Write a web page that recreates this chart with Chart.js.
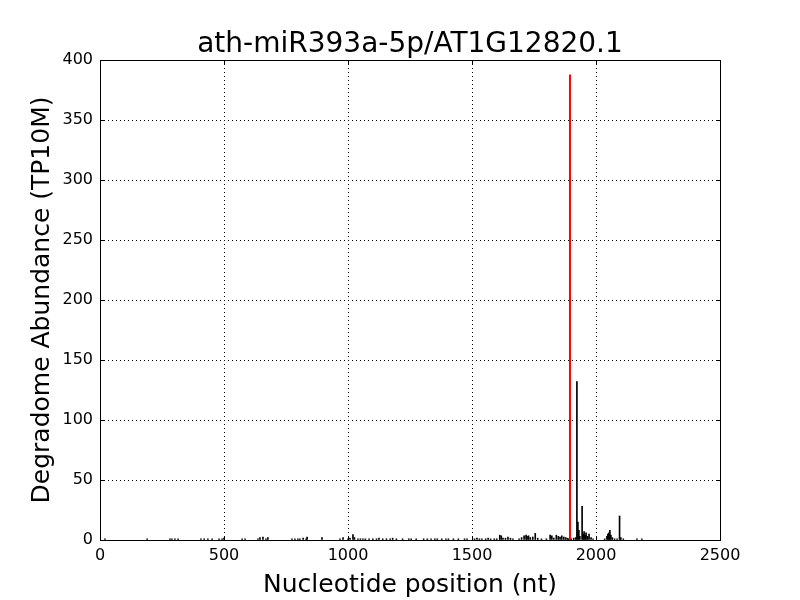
<!DOCTYPE html>
<html>
<head>
<meta charset="utf-8">
<script src="https://cdn.jsdelivr.net/npm/chart.js@4"></script>
<style>
  html, body { margin: 0; padding: 0; background: #fff; }
  #wrap { width: 800px; height: 600px; }
</style>
</head>
<body>
<div id="wrap"><canvas id="degChart" width="800" height="600"></canvas></div>
<script>
// Chart data
const chartTitle = "ath-miR393a-5p/AT1G12820.1";
const xTicks = [0, 500, 1000, 1500, 2000, 2500];
const yTicks = [0, 50, 100, 150, 200, 250, 300, 350, 400];

// degradome read positions (nt) and abundance (TP10M)
const positions = [
  20, 190, 282, 290, 302, 315, 407, 420, 435, 452, 480, 492, 500,
  573, 585, 637, 645, 657, 669, 677, 774, 786, 798, 806, 819, 831, 835, 895,
  968, 980, 1000, 1008, 1020, 1026, 1040, 1050, 1060, 1070, 1085, 1100, 1115,
  1125, 1140, 1155, 1170, 1180, 1195, 1220, 1245, 1255, 1275, 1305, 1320, 1335,
  1350, 1360, 1378, 1395, 1405, 1425, 1445, 1470, 1480, 1510, 1520, 1530, 1540,
  1555, 1565, 1575, 1590, 1600, 1612, 1618, 1625, 1635, 1645, 1655, 1665, 1690,
  1700, 1710, 1718, 1722, 1728, 1735, 1745, 1755, 1765, 1780, 1800, 1815, 1822,
  1830, 1840, 1848, 1855, 1862, 1870, 1878, 1885, 1890,
  1900, 1910, 1918, 1923, 1927, 1931, 1935, 1944, 1948, 1952, 1956, 1960, 1966,
  1972, 1980, 1988, 2035, 2044, 2048, 2052, 2056, 2060, 2066, 2075, 2085, 2095,
  2100, 2110, 2165, 2185
];
const abundance = [
  1, 1, 1, 1, 1, 1, 1, 1, 1, 1, 1, 1, 1.5,
  1, 1, 1, 2, 2.5, 1, 2, 1, 1, 1, 1, 1.5, 1, 2.5, 2,
  1, 2, 1, 1.5, 4.5, 2, 1, 1, 1, 1, 1, 1, 1,
  1.5, 1, 1, 1, 1.5, 1, 1, 1, 1, 1, 1, 1, 1,
  1, 1, 1, 1, 1, 1, 1, 1, 1, 1, 1.5, 1, 1,
  1, 1.5, 1, 1, 1, 4, 3.5, 1.5, 1.5, 2.5, 1.5, 1, 1,
  2, 3.5, 4, 3, 3.5, 2, 2.5, 5.5, 1.5, 1, 1, 4, 3.5,
  1.5, 4, 3, 2.5, 3.5, 2.5, 2, 1.5, 1,
  1, 1.5, 2, 132, 15, 8, 3, 28, 5, 7, 4, 6, 3,
  5, 2, 1, 1, 3, 5, 6, 8, 4, 2, 1, 1, 20,
  2, 1, 1, 1
];

// predicted cleavage site
const cleavagePos = 1895;
const cleavageAbundance = 388;

const fontFamily = "'DejaVu Sans', sans-serif";

// inward tick marks on all four sides, black frame and the title centred over the plot
const framePlugin = {
  id: "frame",
  afterDatasetsDraw(chart) {
    const { ctx, chartArea: a, scales } = chart;
    ctx.save();
    ctx.strokeStyle = "#000";
    ctx.lineWidth = 1;
    ctx.beginPath();
    xTicks.forEach(v => {
      const px = Math.round(scales.x.getPixelForValue(v)) + 0.5;
      ctx.moveTo(px, a.bottom); ctx.lineTo(px, a.bottom - 4);
      ctx.moveTo(px, a.top); ctx.lineTo(px, a.top + 4);
    });
    yTicks.forEach(v => {
      const py = Math.round(scales.y.getPixelForValue(v)) + 0.5;
      ctx.moveTo(a.left, py); ctx.lineTo(a.left + 4, py);
      ctx.moveTo(a.right, py); ctx.lineTo(a.right - 4, py);
    });
    ctx.stroke();
    ctx.strokeRect(Math.round(a.left) + 0.5, Math.round(a.top) + 0.5,
      Math.round(a.right - a.left), Math.round(a.bottom - a.top));

    ctx.fillStyle = "#000";
    ctx.font = "28px " + fontFamily;
    ctx.textAlign = "center";
    ctx.textBaseline = "alphabetic";
    ctx.fillText(chartTitle, (a.left + a.right) / 2, 52);
    ctx.restore();
  }
};

const ctx = document.getElementById("degChart").getContext("2d");
const degChart = new Chart(ctx, {
  data: {
    datasets: [
      {
        type: "line",
        label: "cleavage site",
        data: [{ x: cleavagePos, y: 0 }, { x: cleavagePos, y: cleavageAbundance }],
        borderColor: "#ff0000",
        borderWidth: 2,
        pointRadius: 0,
        order: 0
      },
      {
        type: "bar",
        label: "degradome",
        data: positions.map((p, i) => ({ x: p, y: abundance[i] })),
        backgroundColor: "#000",
        borderWidth: 0,
        barThickness: 1,
        grouped: false,
        order: 1
      }
    ]
  },
  options: {
    responsive: false,
    animation: false,
    layout: { padding: { left: 0, right: 80, top: 60, bottom: 0 } },
    plugins: {
      legend: { display: false },
      tooltip: { enabled: false },
      title: { display: false }
    },
    scales: {
      x: {
        type: "linear",
        min: 0,
        max: 2500,
        offset: false,
        afterFit: s => { s.height = 60; },
        afterBuildTicks: s => { s.ticks = xTicks.map(v => ({ value: v })); },
        grid: {
          color: "#000",
          lineWidth: 1,
          drawTicks: false,
          offset: false
        },
        border: { display: false, dash: [1, 3] },
        ticks: {
          color: "#000",
          font: { family: fontFamily, size: 16 },
          padding: 6,
          maxRotation: 0,
          callback: v => String(v)
        },
        title: {
          display: true,
          text: "Nucleotide position (nt)",
          color: "#000",
          font: { family: fontFamily, size: 25 },
          padding: { top: 6, bottom: 0 }
        }
      },
      y: {
        min: 0,
        max: 400,
        afterFit: s => { s.width = 100; },
        afterBuildTicks: s => { s.ticks = yTicks.map(v => ({ value: v })); },
        grid: {
          color: "#000",
          lineWidth: 1,
          drawTicks: false
        },
        border: { display: false, dash: [1, 3] },
        ticks: {
          color: "#000",
          font: { family: fontFamily, size: 16 },
          padding: 7,
          callback: v => String(v)
        },
        title: {
          display: true,
          text: "Degradome Abundance (TP10M)",
          color: "#000",
          font: { family: fontFamily, size: 25 },
          padding: { top: 27, bottom: 0 }
        }
      }
    }
  },
  plugins: [framePlugin]
});
</script>
</body>
</html>
